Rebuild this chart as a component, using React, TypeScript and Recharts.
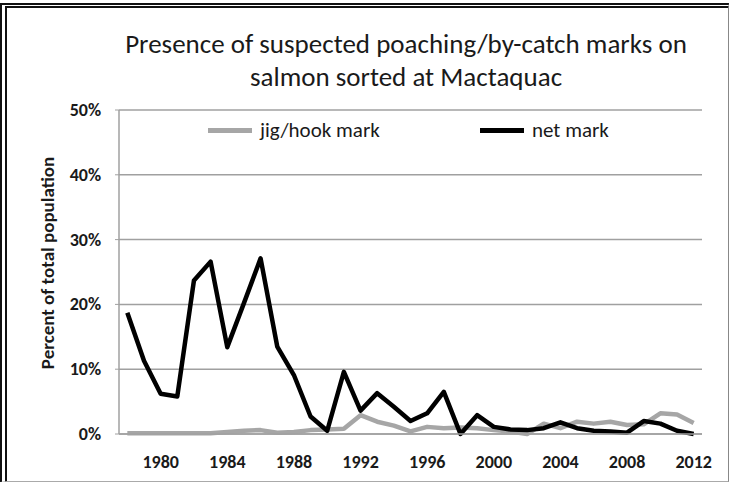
import { CartesianGrid, Line, LineChart, XAxis, YAxis } from "recharts";

const YEARS = [
  1978, 1979, 1980, 1981, 1982, 1983, 1984, 1985, 1986, 1987, 1988, 1989,
  1990, 1991, 1992, 1993, 1994, 1995, 1996, 1997, 1998, 1999, 2000, 2001,
  2002, 2003, 2004, 2005, 2006, 2007, 2008, 2009, 2010, 2011, 2012,
];

// percent of total population
const NET_MARK = [
  18.7, 11.3, 6.2, 5.8, 23.7, 26.6, 13.4, 20.2, 27.1, 13.5, 9.1, 2.7,
  0.5, 9.6, 3.6, 6.3, 4.2, 2.0, 3.2, 6.5, 0.0, 2.9, 1.1, 0.7,
  0.6, 0.9, 1.8, 0.9, 0.5, 0.4, 0.2, 2.0, 1.6, 0.5, 0.0,
];

const JIG_HOOK = [
  0.1, 0.1, 0.1, 0.1, 0.1, 0.1, 0.3, 0.5, 0.6, 0.2, 0.3, 0.6,
  0.7, 0.8, 2.9, 1.9, 1.3, 0.4, 1.1, 0.9, 1.0, 0.9, 0.6, 0.4,
  0.0, 1.6, 0.9, 1.9, 1.6, 1.9, 1.4, 1.5, 3.2, 3.0, 1.7,
];

const X_TICKS = [1980, 1984, 1988, 1992, 1996, 2000, 2004, 2008, 2012];
const Y_TICKS = [0, 10, 20, 30, 40, 50];

const FONT = "Carlito, Calibri, Lato, sans-serif";
const GRAY = "#a6a6a6";
const TEXT = "#1a1a1a";

const data = YEARS.map((year, i) => ({ year, net: NET_MARK[i], jig: JIG_HOOK[i] }));

type TickProps = { x?: number; y?: number; payload?: { value: number } };

function XTick({ x = 0, y = 0, payload }: TickProps) {
  return (
    <text x={x} y={y} dy={26} textAnchor="middle" fill={TEXT} fontSize={18} fontWeight={700} fontFamily={FONT}>
      {payload?.value}
    </text>
  );
}

function YTick({ x = 0, y = 0, payload }: TickProps) {
  return (
    <text x={x} y={y} dy={6} textAnchor="end" fill={TEXT} fontSize={18} fontWeight={700} fontFamily={FONT}>
      {payload?.value}%
    </text>
  );
}

function YTitle({ viewBox }: { viewBox?: { x: number; y: number; width: number; height: number } }) {
  if (!viewBox) return null;
  const cx = 47;
  const cy = viewBox.y + viewBox.height / 2 - 9;
  return (
    <text
      x={cx}
      y={cy}
      transform={`rotate(-90, ${cx}, ${cy})`}
      textAnchor="middle"
      dominantBaseline="central"
      fill={TEXT}
      fontSize={19}
      fontWeight={700}
      fontFamily={FONT}
    >
      Percent of total population
    </text>
  );
}

function LegendRow() {
  const item = (color: string, label: string, width: number) => (
    <div style={{ display: "flex", alignItems: "center", width }}>
      <div style={{ width: 44, height: 5, background: color, marginRight: 8 }} />
      <span>{label}</span>
    </div>
  );
  return (
    <div
      style={{
        position: "absolute",
        left: 208,
        top: 117,
        display: "flex",
        fontFamily: FONT,
        fontSize: 21,
        color: TEXT,
      }}
    >
      {item(GRAY, "jig/hook mark", 272)}
      {item("#000", "net mark", 140)}
    </div>
  );
}

export default function App() {
  return (
    <div
      style={{
        position: "absolute",
        left: 0,
        top: 0,
        width: 732,
        height: 483,
        background: "#fff",
        overflow: "hidden",
      }}
    >
      <div
        style={{
          position: "absolute",
          left: 0,
          top: 3,
          width: 721,
          height: 473,
          borderLeft: "7px double #111",
          borderTop: "5px double #111",
          borderRight: "1px solid #888",
          borderBottom: "1px solid #aaa",
        }}
      />
      <div
        style={{
          position: "absolute",
          left: 80,
          top: 27,
          width: 652,
          textAlign: "center",
          fontFamily: FONT,
          fontSize: 27,
          lineHeight: "33px",
          color: TEXT,
        }}
      >
        Presence of suspected poaching/by-catch marks on
        <br />
        salmon sorted at Mactaquac
      </div>
      <LineChart
        width={732}
        height={483}
        data={data}
        margin={{ top: 110, right: 30, bottom: 19, left: 40 }}
        style={{ position: "absolute", left: 0, top: 0 }}
      >
        <CartesianGrid vertical={false} stroke="#a0a0a0" strokeWidth={1.5} />
        <XAxis
          dataKey="year"
          type="number"
          domain={[1977.5, 2012.5]}
          ticks={X_TICKS}
          interval={0}
          tick={<XTick />}
          tickLine={false}
          axisLine={{ stroke: "#a0a0a0", strokeWidth: 1.5 }}
          height={30}
          tickMargin={2}
        />
        <YAxis
          domain={[0, 50]}
          ticks={Y_TICKS}
          interval={0}
          tick={<YTick />}
          tickLine={{ stroke: "#a0a0a0" }}
          tickSize={4}
          tickMargin={14}
          axisLine={{ stroke: "#a0a0a0", strokeWidth: 1.5 }}
          width={79}
          label={<YTitle />}
        />
        <Line
          dataKey="jig"
          stroke={GRAY}
          strokeWidth={4.5}
          dot={false}
          isAnimationActive={false}
          strokeLinejoin="round"
        />
        <Line
          dataKey="net"
          stroke="#000"
          strokeWidth={4.5}
          dot={false}
          isAnimationActive={false}
          strokeLinejoin="round"
        />
      </LineChart>
      <LegendRow />
    </div>
  );
}
